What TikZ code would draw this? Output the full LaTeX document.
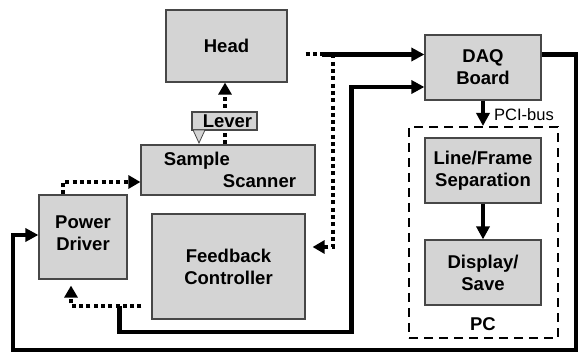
\documentclass[tikz,border=0pt]{standalone}
\usepackage{fontspec}
\setmainfont{Liberation Sans}
\usetikzlibrary{arrows.meta}
\begin{document}
\begin{tikzpicture}[x=1pt,y=-1pt,
  box/.style={draw=black!72, line width=1.2pt, fill=black!17, inner sep=0pt, align=center,
    font=\fontsize{18.5}{22}\selectfont\bfseries},
  solidconn/.style={line width=4.5pt, -{Triangle[length=13pt,width=13pt]}},
  dotline/.style={line width=4pt, dash pattern=on 4pt off 3.3pt},
  dotconn/.style={dotline, -{Triangle[length=12pt,width=13pt]}},
  pcbox/.style={draw=black, line width=2pt, dash pattern=on 9pt off 6pt, inner sep=0pt},
  plainlbl/.style={inner sep=0pt, font=\fontsize{16.5}{20}\selectfont},
  boldlbl/.style={inner sep=0pt, font=\fontsize{18.5}{22}\selectfont\bfseries}]
\useasboundingbox (0,0) rectangle (579,355);

% boxes
\node[box, minimum width=121pt, minimum height=72pt] (head) at (226.5,46) {Head};
\node[box, minimum width=174pt, minimum height=50pt, align=left] (scanner) at (228,170) {\hspace*{4pt}Sample\\\hspace*{63pt}Scanner};
\node[box, minimum width=88pt, minimum height=84pt] (pd) at (83,237) {Power\\Driver\\[-14pt]\mbox{}};
\node[box, minimum width=153pt, minimum height=105pt] (fc) at (228.5,266.5) {Feedback\\Controller};
\node[box, minimum width=116pt, minimum height=65pt] (daq) at (483,67.5) {DAQ\\Board};
\node[pcbox, minimum width=149pt, minimum height=211pt] (pc) at (483.5,232.5) {};
\node[box, minimum width=116pt, minimum height=65pt] (lf) at (483,170.5) {Line/Frame\\Separation};
\node[box, minimum width=116pt, minimum height=65pt] (ds) at (483,272.5) {Display/\\Save};
\node[boldlbl] (pclbl) at (483,324) {PC};
\node[plainlbl] (pci) at (524,115) {PCI-bus};

% coordinates
\coordinate (lv) at (225,0);
\coordinate (a1) at (63,182);
\coordinate (b1) at (119.5,306);
\coordinate (b2) at (71,306);
\coordinate (c1) at (119.5,332);
\coordinate (c2) at (351.5,332);
\coordinate (c3) at (351.5,87);
\coordinate (d0) at (305,54.5);
\coordinate (d1) at (322,54.5);
\coordinate (d2) at (333,54.5);
\coordinate (d3) at (333,247);
\coordinate (e1) at (576,54.5);
\coordinate (e2) at (576,350);
\coordinate (e3) at (13,350);
\coordinate (e4) at (13,235);

% lever signal to head (behind lever box)
\draw[dotconn] (scanner.north -| lv) -- (head.south -| lv);
\node[box, minimum width=65pt, minimum height=18pt, text height=13pt, text depth=0pt] (lever) at (224.5,121) {\hspace*{6pt}Lever};
\draw[draw=black!72, line width=0.8pt, fill=black!17] (193,130) -- (205,130) -- (199,143) -- cycle;

% connectors
\draw[dotconn] (pd.north -| a1) -- (a1) -- (scanner.west |- a1);
\draw[dotconn, shorten <=10pt, shorten >=6pt] (fc.west |- b1) -- (b2) -- (pd.south -| b2);
\draw[solidconn] (b1) -- (c1) -- (c2) -- (c3) -- (daq.west |- c3);
\draw[dotline, shorten <=18pt] (head.east |- d0) -- (d1);
\draw[solidconn] (d1) -- (daq.west |- d1);
\draw[dotconn, shorten >=7pt] (d2) -- (d3) -- (fc.east |- d3);
\draw[solidconn] (daq.east |- e1) -- (e1) -- (e2) -- (e3) -- (e4) -- (pd.west |- e4);
\draw[solidconn] (daq.south) -- (pc.north -| daq.south);
\draw[solidconn] (lf.south) -- (ds.north);
\end{tikzpicture}
\end{document}
